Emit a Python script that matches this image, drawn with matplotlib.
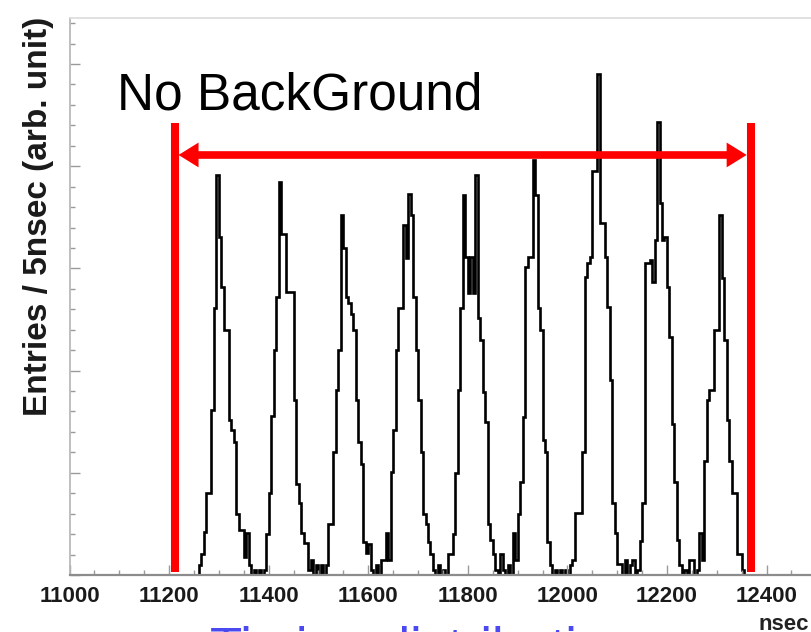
import numpy as np
import matplotlib.pyplot as plt
from matplotlib.ticker import MultipleLocator

plt.rcParams['font.family'] = ['Liberation Sans', 'DejaVu Sans']

# timing histogram, 5 nsec bins starting at first_bin (all other bins empty)
bin_width = 5
first_bin = 11255
bunch1 = [0, 10, 21, 42, 80, 80, 161, 261, 391, 331, 282, 240, 240, 152, 142,
          130, 60, 44, 44, 18, 41, 10, 0, 5, 0, 5, 0, 5]
bunch2 = [40, 80, 156, 220, 272, 385, 334, 334, 277, 277, 277, 171, 89, 70, 41,
          31, 31, 5, 15, 0, 10, 0]
bunch3 = [10, 0, 10, 50, 50, 120, 181, 220, 352, 320, 272, 266, 255, 240, 171,
          130, 109, 32, 22, 30, 5, 0, 10, 0, 15, 15]
bunch4 = [41, 15, 101, 142, 220, 261, 261, 342, 310, 373, 352, 272, 220, 171, 120,
          60, 50, 32, 21, 5, 0, 10, 0, 5, 0, 21]
bunch5 = [21, 40, 100, 181, 261, 372, 311, 276, 311, 276, 391, 251, 230, 179, 150,
          50, 34, 21, 5, 0, 21, 5, 0, 10, 0, 41, 15]
bunch6 = [60, 91, 155, 301, 311, 311, 406, 372, 261, 240, 132, 120, 32, 10, 0,
          5, 0, 5, 0, 5, 0, 10, 15, 61]
bunch7 = [61, 61, 120, 292, 305, 311, 395, 395, 490, 344, 344, 311, 262, 191, 70,
          41, 11, 11, 0, 15, 0, 10, 15, 0, 5, 33, 70]
bunch8 = [305, 305, 308, 287, 328, 443, 364, 328, 331, 282, 233, 148, 91, 34, 10,
          0, 5, 0, 15, 15, 0, 5, 41, 15]
bunch9 = [112, 171, 181, 181, 240, 240, 352, 291, 230, 152, 112, 80, 80, 21, 21, 5]

counts = np.concatenate([bunch1, bunch2, bunch3, bunch4, bunch5,
                         bunch6, bunch7, bunch8, bunch9])
edges = first_bin + bin_width * np.arange(len(counts) + 1)

time_ticks = [11000, 11200, 11400, 11600, 11800, 12000, 12200, 12400]

# background-free window
window_lo, window_hi = 11211, 12368

fig = plt.figure(figsize=(8.11, 6.32), dpi=100)
ax = fig.add_axes([0.0857, 0.0902, 0.9823, 0.8813])

ax.stairs(counts, edges, color='black', lw=1.9)
ax.set_xlim(11000, 12600)
ax.set_ylim(0, 545)

ax.set_xticks(time_ticks)
ax.xaxis.set_minor_locator(MultipleLocator(50))
ax.yaxis.set_major_locator(MultipleLocator(100))
ax.yaxis.set_minor_locator(MultipleLocator(20))
ax.tick_params(which='both', direction='in', color='#9a9a9a', width=1,
               top=False, right=False)
ax.tick_params(axis='x', which='major', length=7, pad=8, labelsize=16,
               labelcolor='#1a1a1a')
ax.tick_params(axis='x', which='minor', length=3.5)
ax.tick_params(axis='y', which='major', length=7, labelleft=False)
ax.tick_params(axis='y', which='minor', length=3.5)
for lab in ax.get_xticklabels():
    lab.set_fontweight('bold')

ax.spines['bottom'].set_color('#8c8c8c')
ax.spines['bottom'].set_linewidth(1.6)
ax.spines['left'].set_color('#b4b4b4')
ax.spines['left'].set_linewidth(1.2)
ax.spines['top'].set_color('#dcdcdc')
ax.spines['top'].set_linewidth(1.2)

# red window marks and double arrow
for xv in (window_lo, window_hi):
    ax.plot([xv, xv], [3, 442], color='red', lw=5.8, solid_capstyle='butt',
            clip_on=False, zorder=5)
ax.plot([11235, 12345], [411, 411], color='red', lw=5.5,
        solid_capstyle='butt', zorder=5)
for tip, tail in ((11219, 11300), (12360, 12280)):
    ax.annotate('', xy=(tip, 411), xytext=(tail, 411), zorder=6,
                arrowprops=dict(arrowstyle='-|>,head_length=1,head_width=0.62',
                                mutation_scale=14.4, lw=0, color='red',
                                shrinkA=0, shrinkB=0))

fig.text(117 / 811, 1 - 110 / 632, 'No BackGround', fontsize=37,
         ha='left', va='baseline', color='black')
fig.text(39 / 811, 1 - 216 / 632, 'Entries / 5nsec (arb. unit)', rotation=90,
         fontsize=24, fontweight='bold', ha='center', va='center',
         color='#1a1a1a')
fig.text(758 / 811, 1 - 630 / 632, 'nsec', fontsize=16, fontweight='bold',
         ha='left', va='baseline', color='#222222')
fig.text(210 / 811, 1 - 626 / 632, 'Timing distribution', fontsize=38,
         color='#4a4af0', ha='left', va='top')

fig.savefig('out.png', dpi=100)
